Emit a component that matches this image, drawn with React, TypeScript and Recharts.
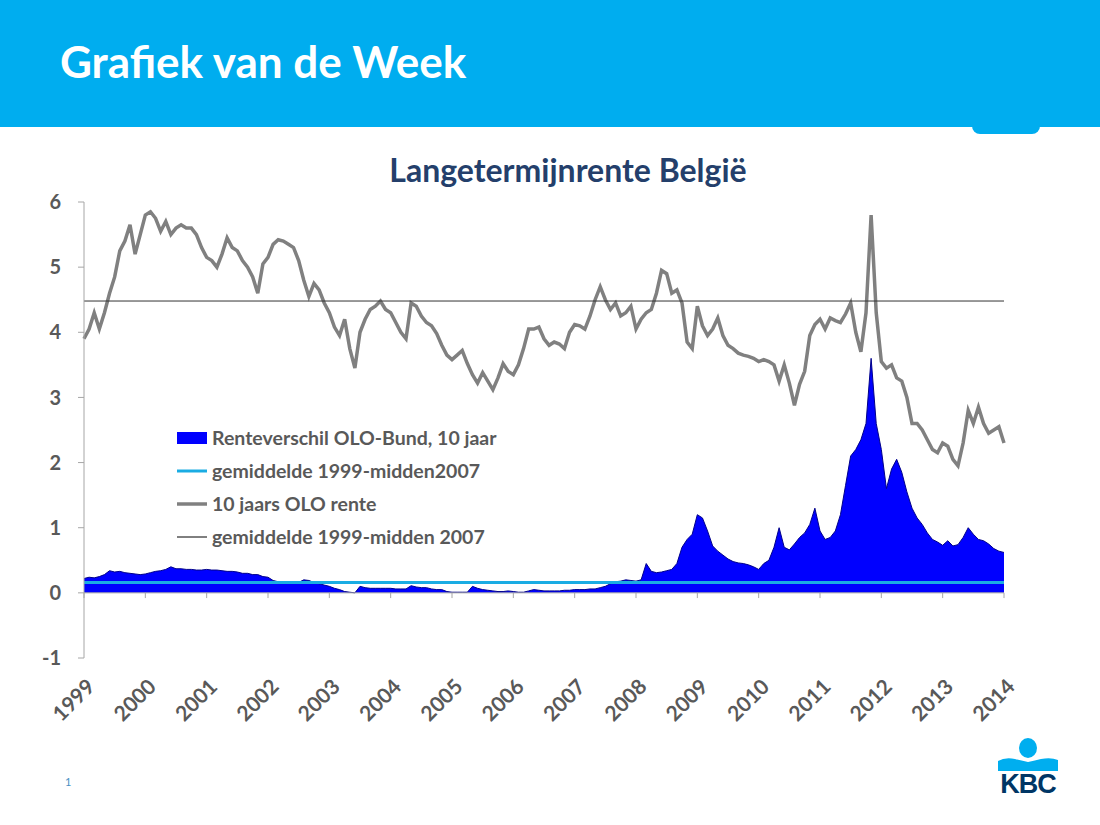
import { ComposedChart, Area, Line, XAxis, YAxis, ReferenceLine, Legend } from 'recharts';

// x-as: jaartallen
const years = [1999, 2000, 2001, 2002, 2003, 2004, 2005, 2006, 2007, 2008, 2009, 2010, 2011, 2012, 2013, 2014];
const yTicks = [-1, 0, 1, 2, 3, 4, 5, 6];

// 10 jaars OLO rente, maandelijks jan 1999 - jan 2014
const oloRente = [
  3.90, 4.05, 4.30, 4.05, 4.30, 4.60, 4.85, 5.25, 5.40, 5.65, 5.20, 5.50, // 1999
  5.80, 5.85, 5.75, 5.55, 5.70, 5.50, 5.60, 5.65, 5.60, 5.60, 5.50, 5.30, // 2000
  5.15, 5.10, 5.00, 5.20, 5.45, 5.30, 5.25, 5.10, 5.00, 4.85, 4.60, 5.05, // 2001
  5.15, 5.35, 5.42, 5.40, 5.35, 5.30, 5.10, 4.80, 4.55, 4.75, 4.65, 4.45, // 2002
  4.30, 4.08, 3.95, 4.20, 3.75, 3.45, 4.00, 4.20, 4.35, 4.40, 4.48, 4.35, // 2003
  4.30, 4.15, 4.00, 3.90, 4.45, 4.40, 4.25, 4.15, 4.10, 3.98, 3.80, 3.65, // 2004
  3.58, 3.65, 3.72, 3.52, 3.35, 3.22, 3.38, 3.25, 3.12, 3.30, 3.52, 3.40, // 2005
  3.35, 3.50, 3.75, 4.05, 4.05, 4.08, 3.90, 3.80, 3.85, 3.82, 3.75, 4.00, // 2006
  4.12, 4.10, 4.05, 4.25, 4.50, 4.70, 4.50, 4.35, 4.45, 4.25, 4.30, 4.40, // 2007
  4.05, 4.20, 4.30, 4.35, 4.60, 4.95, 4.90, 4.60, 4.65, 4.45, 3.85, 3.75, // 2008
  4.40, 4.10, 3.95, 4.05, 4.22, 3.95, 3.80, 3.75, 3.68, 3.65, 3.63, 3.60, // 2009
  3.55, 3.58, 3.55, 3.50, 3.25, 3.50, 3.22, 2.88, 3.20, 3.40, 3.95, 4.12, // 2010
  4.20, 4.05, 4.22, 4.18, 4.15, 4.28, 4.45, 4.00, 3.70, 4.30, 5.80, 4.30, // 2011
  3.55, 3.45, 3.50, 3.30, 3.25, 3.00, 2.60, 2.60, 2.50, 2.35, 2.20, 2.15, // 2012
  2.30, 2.25, 2.05, 1.95, 2.30, 2.80, 2.60, 2.85, 2.60, 2.45, 2.50, 2.55, // 2013
  2.30, // 2014
];

// Renteverschil OLO-Bund, 10 jaar
const renteverschil = [
  0.22, 0.24, 0.23, 0.25, 0.28, 0.34, 0.32, 0.33, 0.31, 0.30, 0.29, 0.28, // 1999
  0.29, 0.31, 0.33, 0.34, 0.36, 0.40, 0.37, 0.37, 0.36, 0.36, 0.35, 0.35, // 2000
  0.36, 0.35, 0.35, 0.34, 0.33, 0.33, 0.32, 0.30, 0.30, 0.28, 0.28, 0.25, // 2001
  0.24, 0.19, 0.17, 0.16, 0.16, 0.15, 0.16, 0.20, 0.19, 0.16, 0.14, 0.12, // 2002
  0.10, 0.07, 0.05, 0.02, 0.01, 0.00, 0.10, 0.08, 0.07, 0.07, 0.07, 0.07, // 2003
  0.07, 0.06, 0.06, 0.06, 0.11, 0.09, 0.08, 0.08, 0.06, 0.05, 0.05, 0.02, // 2004
  0.01, 0.01, 0.01, 0.01, 0.10, 0.07, 0.05, 0.04, 0.03, 0.02, 0.02, 0.03, // 2005
  0.02, 0.01, 0.01, 0.03, 0.05, 0.04, 0.03, 0.03, 0.03, 0.03, 0.04, 0.04, // 2006
  0.05, 0.05, 0.05, 0.06, 0.06, 0.08, 0.10, 0.14, 0.17, 0.18, 0.20, 0.19, // 2007
  0.18, 0.20, 0.45, 0.33, 0.31, 0.32, 0.34, 0.36, 0.45, 0.70, 0.82, 0.90, // 2008
  1.20, 1.15, 0.95, 0.72, 0.64, 0.58, 0.52, 0.48, 0.46, 0.45, 0.43, 0.40, // 2009
  0.36, 0.45, 0.50, 0.70, 1.00, 0.70, 0.66, 0.75, 0.85, 0.92, 1.05, 1.30, // 2010
  0.95, 0.82, 0.85, 0.95, 1.20, 1.65, 2.10, 2.20, 2.35, 2.60, 3.60, 2.60, // 2011
  2.20, 1.60, 1.90, 2.05, 1.85, 1.55, 1.30, 1.15, 1.05, 0.92, 0.82, 0.78, // 2012
  0.73, 0.80, 0.72, 0.74, 0.85, 1.00, 0.90, 0.82, 0.80, 0.75, 0.68, 0.64, // 2013
  0.62, // 2014
];

const gemSpread = 0.16; // gemiddelde 1999-midden 2007 renteverschil
const gemOlo = 4.48; // gemiddelde 1999-midden 2007 OLO

const BLUE = '#0000ff';
const CYAN = '#1aace3';
const GRAY = '#808080';
const TEXT = '#595959';
const FONT = 'Lato, "Open Sans", sans-serif';

const data = oloRente.map((v, i) => ({
  t: years[0] + i / 12,
  olo: v,
  spread: renteverschil[i],
}));

const legendItems = [
  { label: 'Renteverschil OLO-Bund, 10 jaar', kind: 'rect', color: BLUE, width: 0 },
  { label: 'gemiddelde 1999-midden2007', kind: 'line', color: CYAN, width: 3 },
  { label: '10 jaars OLO rente', kind: 'line', color: GRAY, width: 3.5 },
  { label: 'gemiddelde 1999-midden 2007', kind: 'line', color: '#000', width: 1 },
];

function ChartLegend() {
  return (
    <div style={{ fontFamily: FONT, fontSize: 19.5, fontWeight: 700, color: TEXT }}>
      {legendItems.map((it) => (
        <div key={it.label} style={{ display: 'flex', alignItems: 'center', height: 33, whiteSpace: 'nowrap' }}>
          <svg width={30} height={14} style={{ marginRight: 5 }}>
            {it.kind === 'rect'
              ? <rect x={0} y={1} width={30} height={12} fill={it.color} />
              : <line x1={0} x2={30} y1={7} y2={7} stroke={it.color} strokeWidth={it.width} />}
          </svg>
          <span>{it.label}</span>
        </div>
      ))}
    </div>
  );
}

function YearTick({ x, y, payload }: any) {
  const ax = x + 12;
  const ay = y + 28;
  return (
    <text x={ax} y={ay} transform={`rotate(-45 ${ax} ${ay})`} textAnchor="end"
      fontSize={21} fontWeight={700} fill={TEXT} fontFamily={FONT}>
      {payload.value}
    </text>
  );
}

function KbcLogo() {
  return (
    <svg width={70} height={70} style={{ position: 'absolute', left: 993, top: 733 }}>
      <ellipse cx={35} cy={15} rx={9} ry={10} fill="#00aeef" />
      <path d="M5 28 Q12 24 22 26 Q30 28 35 29 Q40 28 48 26 Q58 24 65 27 L65 38 L5 38 Z" fill="#00aeef" />
      <text x={35} y={60} textAnchor="middle" fontFamily="'Liberation Sans', Arial, sans-serif"
        fontWeight={700} fontSize={27} fill="#003665" letterSpacing={-1}>KBC</text>
    </svg>
  );
}

export default function App() {
  return (
    <div style={{ position: 'absolute', left: 0, top: 0, width: 1100, height: 825, background: '#fff', overflow: 'hidden' }}>
      <div style={{ position: 'absolute', left: 0, top: 0, width: 1100, height: 127, background: '#00adef' }} />
      <div style={{ position: 'absolute', left: 972, top: 120, width: 68, height: 14, background: '#00adef', borderRadius: '0 0 8px 8px' }} />
      <div style={{
        position: 'absolute', left: 60, top: 35, color: '#fff', fontFamily: FONT,
        fontWeight: 700, fontSize: 44, lineHeight: '52px',
      }}>Grafiek van de Week</div>
      <div style={{
        position: 'absolute', left: 0, width: 1136, top: 150, textAlign: 'center', color: '#243f6b',
        fontFamily: FONT, fontWeight: 700, fontSize: 32, lineHeight: '40px',
      }}>Langetermijnrente België</div>

      <div style={{ position: 'absolute', left: 0, top: 0 }}>
        <ComposedChart width={1100} height={825} data={data}
          margin={{ top: 202, right: 96, bottom: 107, left: 44 }}>
          <XAxis dataKey="t" type="number" domain={[1999, 2014]} ticks={years}
            axisLine={false} tickLine={false} tickSize={0} tick={<YearTick />} height={60} interval={0} />
          <YAxis type="number" domain={[-1, 6]} ticks={yTicks} width={40} tickSize={6} tickMargin={17}
            axisLine={{ stroke: '#a6a6a6' }} tickLine={{ stroke: '#a6a6a6' }}
            tick={{ fontSize: 20, fontWeight: 700, fill: TEXT, fontFamily: FONT }} />
          <Area dataKey="spread" type="linear" fill={BLUE} fillOpacity={1} stroke="#00008b" strokeWidth={1}
            isAnimationActive={false} />
          <ReferenceLine y={0} stroke="#a6a6a6" />
          {years.map((yr) => (
            <ReferenceLine key={yr} segment={[{ x: yr, y: 0 }, { x: yr, y: -0.08 }]} stroke="#a6a6a6" />
          ))}
          <ReferenceLine y={gemSpread} stroke={CYAN} strokeWidth={3} />
          <Line dataKey="olo" type="linear" stroke={GRAY} strokeWidth={3.5} dot={false}
            isAnimationActive={false} />
          <ReferenceLine y={gemOlo} stroke="#333" strokeWidth={1} />
          <Legend layout="horizontal" verticalAlign="middle" align="center" content={<ChartLegend />}
            wrapperStyle={{ left: 177, top: 421, width: 380 }} />
        </ComposedChart>
      </div>

      <div style={{ position: 'absolute', left: 65, top: 775, color: '#4a8fc4', fontFamily: FONT, fontSize: 11 }}>1</div>
      <KbcLogo />
    </div>
  );
}
